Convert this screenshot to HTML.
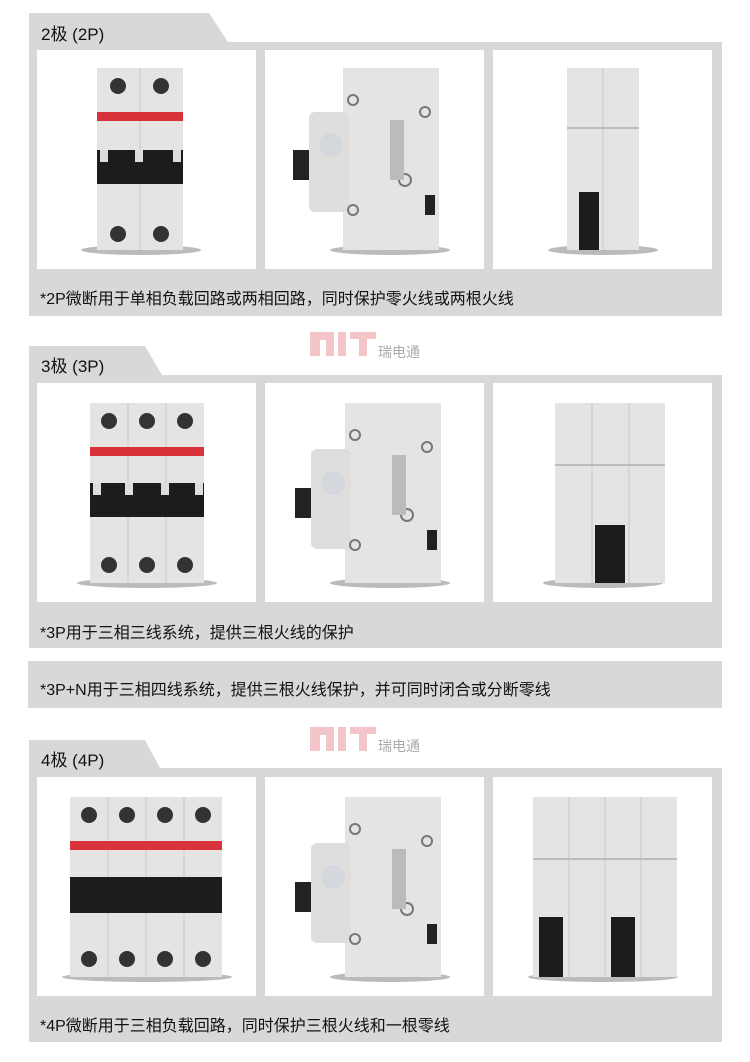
<!DOCTYPE html>
<html><head><meta charset="utf-8"><style>
body{margin:0;width:750px;height:1062px;background:#fff;position:relative;overflow:hidden;font-family:"Liberation Sans","Noto Sans CJK SC",sans-serif;}
.t{position:absolute;font-size:17px;color:#111;white-space:nowrap;}
.box{position:absolute;width:219px;height:219px;background:#fff;}
.box svg{position:absolute;left:0;top:0}
.wm{position:absolute;font-size:14px;color:#aaa;}
</style></head><body>

<svg style="position:absolute;left:0;top:0" width="750" height="1062">
<polygon points="29,13 209,13 228,42 722,42 722,316 29,316" fill="#d8d8d8"/>
<polygon points="29,346 145,346 162,375 722,375 722,648 29,648" fill="#d8d8d8"/>
<rect x="28" y="661" width="694" height="47" fill="#d8d8d8"/>
<polygon points="29,740 145,740 160,768 722,768 722,1042 29,1042" fill="#d8d8d8"/>
<g fill="#f3c4c8"><rect x="310" y="332" width="10" height="24"/><rect x="310" y="332" width="24" height="8"/><rect x="326" y="332" width="8" height="24"/><rect x="338" y="332" width="8" height="24"/><rect x="350" y="332" width="26" height="7"/><rect x="359" y="332" width="8" height="24"/></g>
<g fill="#f3c4c8"><rect x="310" y="727" width="10" height="24"/><rect x="310" y="727" width="24" height="8"/><rect x="326" y="727" width="8" height="24"/><rect x="338" y="727" width="8" height="24"/><rect x="350" y="727" width="26" height="7"/><rect x="359" y="727" width="8" height="24"/></g>
</svg>
<div class="wm" style="left:378px;top:342px">瑞电通</div>
<div class="wm" style="left:378px;top:736px">瑞电通</div>

<div class="t" style="left:41px;top:20px">2极 (2P)</div>
<div class="t" style="left:41px;top:352px">3极 (3P)</div>
<div class="t" style="left:41px;top:746px">4极 (4P)</div>
<div class="t" style="left:40px;top:285px;font-size:16px">*2P微断用于单相负载回路或两相回路，同时保护零火线或两根火线</div>
<div class="t" style="left:40px;top:619px;font-size:16px">*3P用于三相三线系统，提供三根火线的保护</div>
<div class="t" style="left:40px;top:676px;font-size:16px">*3P+N用于三相四线系统，提供三根火线保护，并可同时闭合或分断零线</div>
<div class="t" style="left:40px;top:1012px;font-size:16px">*4P微断用于三相负载回路，同时保护三根火线和一根零线</div>

<div class="box" style="left:37px;top:50px"><svg width="219" height="219">
<ellipse cx="104" cy="200" rx="60" ry="5" fill="#bbb"/>
<rect x="60" y="18" width="86" height="182" fill="#e6e4e2"/>
<line x1="103" y1="18" x2="103" y2="200" stroke="#c8c8c8"/>
<rect x="60" y="62" width="86" height="9" fill="#d9323a"/>
<rect x="60" y="100" width="86" height="34" fill="#1c1c1c"/>
<rect x="63" y="100" width="8" height="12" fill="#ddd"/><rect x="98" y="100" width="8" height="12" fill="#ddd"/><rect x="136" y="100" width="8" height="12" fill="#ddd"/>
<circle cx="81" cy="36" r="8" fill="#333"/><circle cx="124" cy="36" r="8" fill="#333"/>
<circle cx="81" cy="184" r="8" fill="#333"/><circle cx="124" cy="184" r="8" fill="#333"/>
</svg></div>
<div class="box" style="left:265px;top:50px"><svg width="219" height="219">
<ellipse cx="125" cy="200" rx="60" ry="5" fill="#bbb"/>
<rect x="78" y="18" width="96" height="182" fill="#e6e4e2"/>
<rect x="44" y="62" width="40" height="100" rx="6" fill="#e0dedc"/>
<circle cx="66" cy="95" r="12" fill="#d4d8dc"/>
<rect x="28" y="100" width="16" height="30" fill="#222"/>
<circle cx="88" cy="50" r="5" fill="none" stroke="#777" stroke-width="2"/>
<circle cx="160" cy="62" r="5" fill="none" stroke="#777" stroke-width="2"/>
<circle cx="140" cy="130" r="6" fill="none" stroke="#777" stroke-width="2"/>
<circle cx="88" cy="160" r="5" fill="none" stroke="#777" stroke-width="2"/>
<rect x="125" y="70" width="14" height="60" fill="#bbb"/>
<rect x="160" y="145" width="10" height="20" fill="#222"/>
</svg></div>
<div class="box" style="left:493px;top:50px"><svg width="219" height="219">
<ellipse cx="110" cy="200" rx="55" ry="5" fill="#bbb"/>
<rect x="74" y="18" width="72" height="182" fill="#e6e4e2"/>
<line x1="110" y1="18" x2="110" y2="200" stroke="#c8c8c8"/>
<line x1="74" y1="78" x2="146" y2="78" stroke="#bbb" stroke-width="2"/>
<rect x="86" y="142" width="20" height="58" fill="#1c1c1c"/>
</svg></div>

<div class="box" style="left:37px;top:383px"><svg width="219" height="219">
<ellipse cx="110" cy="200" rx="70" ry="5" fill="#bbb"/>
<rect x="53" y="20" width="114" height="180" fill="#e6e4e2"/>
<line x1="91" y1="20" x2="91" y2="200" stroke="#c8c8c8"/><line x1="129" y1="20" x2="129" y2="200" stroke="#c8c8c8"/>
<rect x="53" y="64" width="114" height="9" fill="#d9323a"/>
<rect x="53" y="100" width="114" height="34" fill="#1c1c1c"/>
<rect x="56" y="100" width="8" height="12" fill="#ddd"/><rect x="88" y="100" width="8" height="12" fill="#ddd"/><rect x="124" y="100" width="8" height="12" fill="#ddd"/><rect x="158" y="100" width="8" height="12" fill="#ddd"/>
<circle cx="72" cy="38" r="8" fill="#333"/><circle cx="110" cy="38" r="8" fill="#333"/><circle cx="148" cy="38" r="8" fill="#333"/>
<circle cx="72" cy="182" r="8" fill="#333"/><circle cx="110" cy="182" r="8" fill="#333"/><circle cx="148" cy="182" r="8" fill="#333"/>
</svg></div>
<div class="box" style="left:265px;top:383px"><svg width="219" height="219">
<ellipse cx="125" cy="200" rx="60" ry="5" fill="#bbb"/>
<rect x="80" y="20" width="96" height="180" fill="#e6e4e2"/>
<rect x="46" y="66" width="40" height="100" rx="6" fill="#e0dedc"/>
<circle cx="68" cy="100" r="12" fill="#d4d8dc"/>
<rect x="30" y="105" width="16" height="30" fill="#222"/>
<circle cx="90" cy="52" r="5" fill="none" stroke="#777" stroke-width="2"/>
<circle cx="162" cy="64" r="5" fill="none" stroke="#777" stroke-width="2"/>
<circle cx="142" cy="132" r="6" fill="none" stroke="#777" stroke-width="2"/>
<circle cx="90" cy="162" r="5" fill="none" stroke="#777" stroke-width="2"/>
<rect x="127" y="72" width="14" height="60" fill="#bbb"/>
<rect x="162" y="147" width="10" height="20" fill="#222"/>
</svg></div>
<div class="box" style="left:493px;top:383px"><svg width="219" height="219">
<ellipse cx="110" cy="200" rx="60" ry="5" fill="#bbb"/>
<rect x="62" y="20" width="110" height="180" fill="#e6e4e2"/>
<line x1="99" y1="20" x2="99" y2="200" stroke="#c8c8c8"/><line x1="136" y1="20" x2="136" y2="200" stroke="#c8c8c8"/>
<line x1="62" y1="82" x2="172" y2="82" stroke="#bbb" stroke-width="2"/>
<rect x="102" y="142" width="30" height="58" fill="#1c1c1c"/>
</svg></div>

<div class="box" style="left:37px;top:777px"><svg width="219" height="219">
<ellipse cx="110" cy="200" rx="85" ry="5" fill="#bbb"/>
<rect x="33" y="20" width="152" height="180" fill="#e6e4e2"/>
<line x1="71" y1="20" x2="71" y2="200" stroke="#c8c8c8"/><line x1="109" y1="20" x2="109" y2="200" stroke="#c8c8c8"/><line x1="147" y1="20" x2="147" y2="200" stroke="#c8c8c8"/>
<rect x="33" y="64" width="152" height="9" fill="#d9323a"/>
<rect x="33" y="100" width="152" height="36" fill="#1c1c1c"/>
<circle cx="52" cy="38" r="8" fill="#333"/><circle cx="90" cy="38" r="8" fill="#333"/><circle cx="128" cy="38" r="8" fill="#333"/><circle cx="166" cy="38" r="8" fill="#333"/>
<circle cx="52" cy="182" r="8" fill="#333"/><circle cx="90" cy="182" r="8" fill="#333"/><circle cx="128" cy="182" r="8" fill="#333"/><circle cx="166" cy="182" r="8" fill="#333"/>
</svg></div>
<div class="box" style="left:265px;top:777px"><svg width="219" height="219">
<ellipse cx="125" cy="200" rx="60" ry="5" fill="#bbb"/>
<rect x="80" y="20" width="96" height="180" fill="#e6e4e2"/>
<rect x="46" y="66" width="40" height="100" rx="6" fill="#e0dedc"/>
<circle cx="68" cy="100" r="12" fill="#d4d8dc"/>
<rect x="30" y="105" width="16" height="30" fill="#222"/>
<circle cx="90" cy="52" r="5" fill="none" stroke="#777" stroke-width="2"/>
<circle cx="162" cy="64" r="5" fill="none" stroke="#777" stroke-width="2"/>
<circle cx="142" cy="132" r="6" fill="none" stroke="#777" stroke-width="2"/>
<circle cx="90" cy="162" r="5" fill="none" stroke="#777" stroke-width="2"/>
<rect x="127" y="72" width="14" height="60" fill="#bbb"/>
<rect x="162" y="147" width="10" height="20" fill="#222"/>
</svg></div>
<div class="box" style="left:493px;top:777px"><svg width="219" height="219">
<ellipse cx="110" cy="200" rx="75" ry="5" fill="#bbb"/>
<rect x="40" y="20" width="144" height="180" fill="#e6e4e2"/>
<line x1="76" y1="20" x2="76" y2="200" stroke="#c8c8c8"/><line x1="112" y1="20" x2="112" y2="200" stroke="#c8c8c8"/><line x1="148" y1="20" x2="148" y2="200" stroke="#c8c8c8"/>
<line x1="40" y1="82" x2="184" y2="82" stroke="#bbb" stroke-width="2"/>
<rect x="46" y="140" width="24" height="60" fill="#1c1c1c"/>
<rect x="118" y="140" width="24" height="60" fill="#1c1c1c"/>
</svg></div>

</body></html>
